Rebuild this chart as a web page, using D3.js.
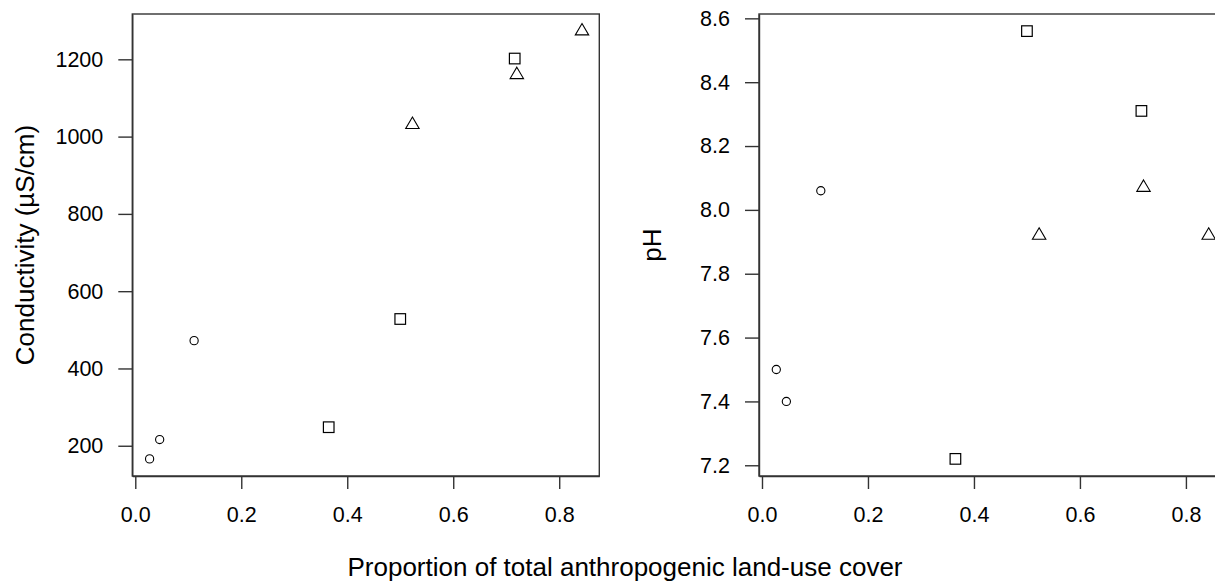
<!DOCTYPE html>
<html>
<head>
<meta charset="utf-8">
<script src="https://cdn.jsdelivr.net/npm/d3@7"></script>
<style>
  html, body { margin: 0; padding: 0; background: #fff; }
  svg { display: block; font-family: "Liberation Sans", Arial, sans-serif; }
</style>
</head>
<body>
<svg id="chart" width="1215" height="582"></svg>
<script>
// Site-level observations: share of anthropogenic land-use cover in each catchment
const proportion   = [0.027, 0.046, 0.111, 0.365, 0.500, 0.716, 0.523, 0.720, 0.843];
const conductivity = [166, 216, 472, 248, 528, 1202, 1031, 1160, 1273];
const pH           = [7.50, 7.40, 8.06, 7.22, 8.56, 8.31, 7.92, 8.07, 7.92];
// Land-use class of each site: low -> circle, medium -> square, high -> triangle
const landClass    = ["low", "low", "low", "mid", "mid", "mid", "high", "high", "high"];

const xTicks     = [0.0, 0.2, 0.4, 0.6, 0.8];
const condTicks  = [200, 400, 600, 800, 1000, 1200];
const pHTicks    = [7.2, 7.4, 7.6, 7.8, 8.0, 8.2, 8.4, 8.6];

const svg = d3.select("#chart");
const ink = "#000";
const frame = "#333";
const tickFont = 21.5;
const titleFont = 26;

// R-style axis range: data extent padded by 4% on each side
function padded(values) {
  const [lo, hi] = d3.extent(values);
  const pad = (hi - lo) * 0.04;
  return [lo - pad, hi + pad];
}

function drawMarker(g, cls, x, y) {
  if (cls === "low") {
    g.append("circle").attr("cx", x).attr("cy", y).attr("r", 4.1)
      .attr("fill", "none").attr("stroke", ink).attr("stroke-width", 1.1);
  } else if (cls === "mid") {
    const s = 10.6;
    g.append("rect").attr("x", x - s / 2).attr("y", y - s / 2)
      .attr("width", s).attr("height", s)
      .attr("fill", "none").attr("stroke", ink).attr("stroke-width", 1.2);
  } else {
    const w = 13.4, up = 7.6, down = 3.8;
    g.append("path")
      .attr("d", `M${x},${y - up}L${x + w / 2},${y + down}L${x - w / 2},${y + down}Z`)
      .attr("fill", "none").attr("stroke", ink).attr("stroke-width", 1.1)
      .attr("stroke-linejoin", "miter");
  }
}

function panel(opts) {
  const { left, right, top, bottom, yValues, yTicks, yFormat, yTitle, titleX } = opts;
  const x = d3.scaleLinear().domain(padded(proportion)).range([left, right]);
  const y = d3.scaleLinear().domain(padded(yValues)).range([bottom, top]);
  const g = svg.append("g");

  // frame around plot region
  g.append("rect").attr("x", left).attr("y", top)
    .attr("width", right - left).attr("height", bottom - top)
    .attr("fill", "none").attr("stroke", frame).attr("stroke-width", 1.4);

  // x axis
  const xAxis = d3.axisBottom(x).tickValues(xTicks).tickFormat(d3.format(".1f"))
    .tickSizeInner(13).tickSizeOuter(0).tickPadding(18);
  const gx = g.append("g").attr("transform", `translate(0,${bottom})`).call(xAxis);
  gx.select(".domain").attr("stroke", frame).attr("stroke-width", 1.4);
  gx.selectAll(".tick line").attr("stroke", frame).attr("stroke-width", 1.4);
  gx.selectAll(".tick text").attr("font-size", tickFont).attr("fill", ink)
    .attr("font-family", "Liberation Sans, Arial, sans-serif");

  // y axis
  const yAxis = d3.axisLeft(y).tickValues(yTicks).tickFormat(yFormat)
    .tickSizeInner(14).tickSizeOuter(0).tickPadding(15);
  const gy = g.append("g").attr("transform", `translate(${left},0)`).call(yAxis);
  gy.select(".domain").attr("stroke", frame).attr("stroke-width", 1.4);
  gy.selectAll(".tick line").attr("stroke", frame).attr("stroke-width", 1.4);
  gy.selectAll(".tick text").attr("font-size", tickFont).attr("fill", ink)
    .attr("font-family", "Liberation Sans, Arial, sans-serif");

  // y title
  g.append("text")
    .attr("transform", `translate(${titleX},${(top + bottom) / 2}) rotate(-90)`)
    .attr("text-anchor", "middle").attr("font-size", titleFont).attr("fill", ink)
    .text(yTitle);

  // points
  const pts = g.append("g");
  proportion.forEach((p, i) => drawMarker(pts, landClass[i], x(p), y(yValues[i])));
}

panel({
  left: 132.3, right: 599.3, top: 14, bottom: 476,
  yValues: conductivity, yTicks: condTicks, yFormat: d3.format("d"),
  yTitle: "Conductivity (µS/cm)", titleX: 34
});

panel({
  left: 759, right: 1226, top: 14, bottom: 476,
  yValues: pH, yTicks: pHTicks, yFormat: d3.format(".1f"),
  yTitle: "pH", titleX: 661
});

// shared x title
svg.append("text")
  .attr("x", 625).attr("y", 576)
  .attr("text-anchor", "middle").attr("font-size", titleFont).attr("fill", ink)
  .text("Proportion of total anthropogenic land-use cover");
</script>
</body>
</html>
